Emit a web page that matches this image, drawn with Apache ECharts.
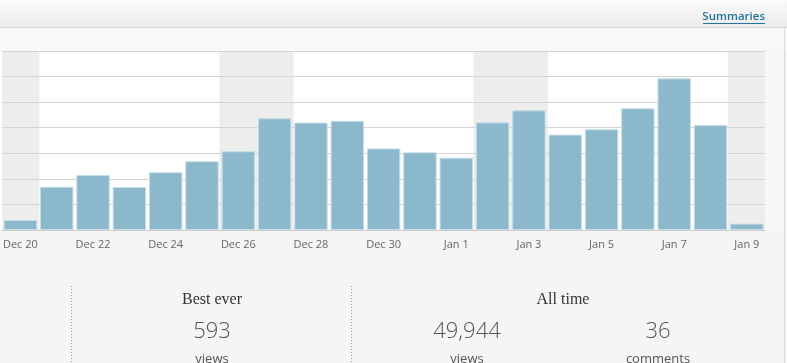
<!DOCTYPE html>
<html>
<head>
<meta charset="utf-8">
<script src="https://cdn.jsdelivr.net/npm/echarts@6/dist/echarts.min.js"></script>
<style>
html,body{margin:0;padding:0;background:#f5f5f5;}
#c{width:787px;height:363px;}
</style>
</head>
<body>
<div id="c"></div>
<script>
var categories = ['Dec 20','Dec 21','Dec 22','Dec 23','Dec 24','Dec 25','Dec 26','Dec 27','Dec 28','Dec 29','Dec 30','Dec 31','Jan 1','Jan 2','Jan 3','Jan 4','Jan 5','Jan 6','Jan 7','Jan 8','Jan 9'];
var views = [39,169,215,168,226,269,308,437,420,427,319,304,283,421,468,373,394,476,593,411,25];
var weekend = [1,0,0,0,0,0,1,1,0,0,0,0,0,1,1,0,0,0,0,0,1];
var yMax = 700;
var yInterval = 100;
var stats = {bestLabel:'Best ever', bestValue:'593', bestUnit:'views', allLabel:'All time', allViews:'49,944', allViewsUnit:'views', allComments:'36', allCommentsUnit:'comments'};

var chart = echarts.init(document.getElementById('c'), null, {renderer:'canvas'});
var font = '"Open Sans", sans-serif';
var serif = '"Liberation Serif", "DejaVu Serif", serif';

chart.setOption({
  animation:false,
  graphic:[
    {type:'rect', z:-100, shape:{x:0,y:0,width:787,height:27}, style:{fill:new echarts.graphic.LinearGradient(0,0,0,1,[{offset:0,color:'#fafafa'},{offset:1,color:'#ebebeb'}])}},
    {type:'rect', z:-100, shape:{x:0,y:27,width:787,height:1}, style:{fill:'#d9d9d9'}},
    {type:'rect', z:-100, shape:{x:0,y:28,width:787,height:23}, style:{fill:'#f8f8f8'}},
    {type:'rect', z:-100, shape:{x:0,y:51,width:765,height:179}, style:{fill:'#ffffff'}},
    {type:'rect', z:-100, shape:{x:765,y:51,width:19,height:179}, style:{fill:'#f7f7f7'}},
    {type:'rect', z:-99, shape:{x:784,y:28,width:1,height:335}, style:{fill:'#dcdcdc'}},
    {type:'text', z:10, style:{x:765,y:17,text:'Summaries',fill:'#21759b',font:'600 11.5px '+font,textAlign:'right',textVerticalAlign:'middle'}},
    {type:'rect', z:10, shape:{x:703,y:23,width:62,height:1}, style:{fill:'#21759b'}},
    {type:'line', z:10, shape:{x1:71.5,y1:286,x2:71.5,y2:363}, style:{stroke:'#999',lineWidth:1,lineDash:[1,2]}},
    {type:'line', z:10, shape:{x1:351.5,y1:286,x2:351.5,y2:363}, style:{stroke:'#999',lineWidth:1,lineDash:[1,2]}},
    {type:'text', z:10, style:{x:212,y:300,text:stats.bestLabel,fill:'#333',font:'16px '+serif,textAlign:'center',textVerticalAlign:'middle'}},
    {type:'text', z:10, style:{x:212,y:332,text:stats.bestValue,fill:'#555',font:'300 22px '+font,textAlign:'center',textVerticalAlign:'middle'}},
    {type:'text', z:10, style:{x:212,y:359,text:stats.bestUnit,fill:'#555',font:'13px '+font,textAlign:'center',textVerticalAlign:'middle'}},
    {type:'text', z:10, style:{x:563,y:300,text:stats.allLabel,fill:'#333',font:'16px '+serif,textAlign:'center',textVerticalAlign:'middle'}},
    {type:'text', z:10, style:{x:467,y:332,text:stats.allViews,fill:'#555',font:'300 22px '+font,textAlign:'center',textVerticalAlign:'middle'}},
    {type:'text', z:10, style:{x:467,y:359,text:stats.allViewsUnit,fill:'#555',font:'13px '+font,textAlign:'center',textVerticalAlign:'middle'}},
    {type:'text', z:10, style:{x:658,y:332,text:stats.allComments,fill:'#555',font:'300 22px '+font,textAlign:'center',textVerticalAlign:'middle'}},
    {type:'text', z:10, style:{x:658,y:359,text:stats.allCommentsUnit,fill:'#555',font:'13px '+font,textAlign:'center',textVerticalAlign:'middle'}}
  ],
  grid:{left:0,right:22,top:51,height:179,containLabel:false},
  xAxis:[
    {type:'category',data:categories,axisTick:{show:false},
     axisLine:{lineStyle:{color:'#cccccc',width:1}},
     axisLabel:{interval:1,color:'#666',fontFamily:font,fontSize:11,margin:9}},
    {type:'category',data:categories,show:false}
  ],
  yAxis:{type:'value',min:0,max:yMax,interval:yInterval,
    axisLabel:{show:false},axisLine:{show:false},axisTick:{show:false},
    splitLine:{lineStyle:{color:'#d4d4d4',width:1}}},
  series:[
    {type:'bar',xAxisIndex:1,silent:true,z:-1,barWidth:38,
     itemStyle:{color:'#ededed'},
     data:weekend.map(function(w){return w?yMax:'-';})},
    {type:'bar',xAxisIndex:0,barCategoryGap:'8%',
     itemStyle:{color:'#8cb8cb',borderColor:'#c6dde7',borderWidth:1},
     data:views}
  ]
});
</script>
</body>
</html>
